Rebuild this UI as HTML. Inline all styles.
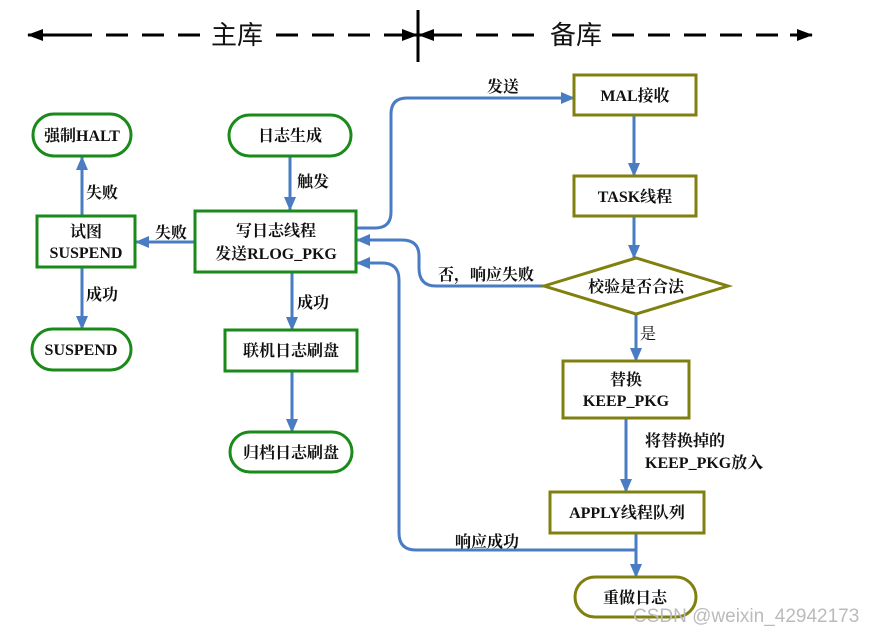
<!DOCTYPE html>
<html><head><meta charset="utf-8"><style>
html,body{margin:0;padding:0;background:#fff;}
svg{display:block;}
text{font-family:"Liberation Serif","Noto Serif CJK SC",serif;font-weight:bold;font-size:16px;fill:#111;}
.g{fill:#fff;stroke:#1a8a1a;stroke-width:3;}
.o{fill:#fff;stroke:#808010;stroke-width:3;}
.c{fill:none;stroke:#4a7cc4;stroke-width:3;}
</style></head><body>
<svg width="880" height="634" viewBox="0 0 880 634">
<defs>
<marker id="a" markerWidth="14" markerHeight="14" refX="13" refY="7" orient="auto" markerUnits="userSpaceOnUse"><path d="M0,1 L14,7 L0,13 z" fill="#4a7cc4"/></marker>
<marker id="k" markerWidth="16" markerHeight="14" refX="15" refY="7" orient="auto" markerUnits="userSpaceOnUse"><path d="M0,1 L16,7 L0,13 z" fill="#000"/></marker>
</defs>
<!-- header -->
<line x1="70" y1="35" x2="200" y2="35" stroke="#000" stroke-width="3" stroke-dasharray="22,14"/>
<line x1="70" y1="35" x2="28" y2="35" stroke="#000" stroke-width="3" marker-end="url(#k)"/>
<line x1="276" y1="35" x2="400" y2="35" stroke="#000" stroke-width="3" stroke-dasharray="22,14"/>
<line x1="390" y1="35" x2="417" y2="35" stroke="#000" stroke-width="3" marker-end="url(#k)"/>
<line x1="418" y1="10" x2="418" y2="62" stroke="#000" stroke-width="3"/>
<line x1="440" y1="35" x2="419" y2="35" stroke="#000" stroke-width="3" marker-end="url(#k)"/>
<line x1="440" y1="35" x2="540" y2="35" stroke="#000" stroke-width="3" stroke-dasharray="22,14"/>
<line x1="612" y1="35" x2="790" y2="35" stroke="#000" stroke-width="3" stroke-dasharray="22,14"/>
<line x1="790" y1="35" x2="812" y2="35" stroke="#000" stroke-width="3" marker-end="url(#k)"/>
<text x="237" y="44" text-anchor="middle" style="font-family:'Noto Sans CJK SC',sans-serif;font-weight:normal;font-size:26px">主库</text>
<text x="576" y="44" text-anchor="middle" style="font-family:'Noto Sans CJK SC',sans-serif;font-weight:normal;font-size:26px">备库</text>
<!-- connectors -->
<path class="c" d="M290,156 V210" marker-end="url(#a)"/>
<path class="c" d="M195,242 H136" marker-end="url(#a)"/>
<path class="c" d="M82,216 V157" marker-end="url(#a)"/>
<path class="c" d="M82,267 V329" marker-end="url(#a)"/>
<path class="c" d="M292,272 V330" marker-end="url(#a)"/>
<path class="c" d="M292,371 V432" marker-end="url(#a)"/>
<path class="c" d="M356,228 H375 Q391,228 391,212 V114 Q391,98 407,98 H574" marker-end="url(#a)"/>
<path class="c" d="M544,286 H436 Q419,286 419,268 V256 Q419,240 402,240 H357" marker-end="url(#a)"/>
<path class="c" d="M636,550 H416 Q399,550 399,533 V280 Q399,263 382,263 H357" marker-end="url(#a)"/>
<path class="c" d="M634,115 V176" marker-end="url(#a)"/>
<path class="c" d="M634,216 V258" marker-end="url(#a)"/>
<path class="c" d="M636,314 V361" marker-end="url(#a)"/>
<path class="c" d="M626,418 V492" marker-end="url(#a)"/>
<path class="c" d="M636,533 V577" marker-end="url(#a)"/>
<!-- nodes -->
<rect class="g" x="33" y="114" width="98" height="42" rx="21"/>
<text x="82" y="141" text-anchor="middle">强制HALT</text>
<rect class="g" x="229" y="115" width="122" height="41" rx="20.5"/>
<text x="290" y="141" text-anchor="middle">日志生成</text>
<rect class="g" x="195" y="211" width="161" height="61"/>
<text x="276" y="236" text-anchor="middle">写日志线程</text>
<text x="276" y="259" text-anchor="middle">发送RLOG_PKG</text>
<rect class="g" x="37" y="216" width="98" height="51"/>
<text x="86" y="237" text-anchor="middle">试图</text>
<text x="86" y="258" text-anchor="middle">SUSPEND</text>
<rect class="g" x="32" y="329" width="99" height="41" rx="20.5"/>
<text x="81" y="355" text-anchor="middle">SUSPEND</text>
<rect class="g" x="225" y="330" width="132" height="41"/>
<text x="291" y="356" text-anchor="middle">联机日志刷盘</text>
<rect class="g" x="230" y="432" width="122" height="40" rx="20"/>
<text x="291" y="458" text-anchor="middle">归档日志刷盘</text>
<rect class="o" x="574" y="75" width="122" height="40"/>
<text x="635" y="101" text-anchor="middle">MAL接收</text>
<rect class="o" x="574" y="176" width="122" height="40"/>
<text x="635" y="202" text-anchor="middle">TASK线程</text>
<polygon class="o" points="544,286 636,258 728,286 636,314"/>
<text x="636" y="292" text-anchor="middle">校验是否合法</text>
<rect class="o" x="563" y="361" width="126" height="57"/>
<text x="626" y="385" text-anchor="middle">替换</text>
<text x="626" y="406" text-anchor="middle">KEEP_PKG</text>
<rect class="o" x="550" y="492" width="154" height="41"/>
<text x="627" y="518" text-anchor="middle">APPLY线程队列</text>
<rect class="o" x="575" y="577" width="121" height="40" rx="20"/>
<text x="635" y="603" text-anchor="middle">重做日志</text>
<!-- labels -->
<text x="297" y="187">触发</text>
<text x="155" y="238">失败</text>
<text x="86" y="198">失败</text>
<text x="86" y="300">成功</text>
<text x="297" y="308">成功</text>
<text x="487" y="92">发送</text>
<text x="438" y="280">否，响应失败</text>
<text x="640" y="339" style="font-weight:normal">是</text>
<text x="645" y="446">将替换掉的</text>
<text x="645" y="468">KEEP_PKG放入</text>
<text x="455" y="547">响应成功</text>
<text x="633" y="622" style="font-family:'Liberation Sans',sans-serif;font-weight:normal;font-size:19px;fill:#bbb">CSDN @weixin_42942173</text>
</svg>
</body></html>
